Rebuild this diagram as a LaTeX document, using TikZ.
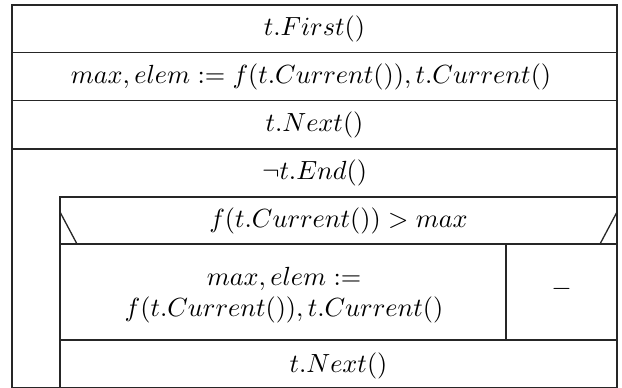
\documentclass[tikz,border=0pt]{standalone}
\begin{document}
\begin{tikzpicture}[x=0.381pt,y=-0.381pt,line width=0.5pt,
  lbl/.style={inner sep=0pt,align=center},
  frame/.style={draw=black!85}]
\useasboundingbox (0,0) rectangle (622,388);
% outer sequence
\draw[frame] (12,5) rectangle (617,387.5);
\draw[frame] (12,52.7) -- (617,52.7);
\draw[frame] (12,100.3) -- (617,100.3);
\draw[frame] (12,149) -- (617,149);
% loop body
\draw[frame] (60,197) rectangle (617,387.5);
\draw[frame] (60,244) -- (617,244);
\draw[frame] (506,244) -- (506,340);
\draw[frame] (60,340) -- (617,340);
% condition triangle edges
\draw[frame] (60,212) -- (77,244);
\draw[frame] (617,212) -- (600,244);
% texts
\node[lbl] (first) at (314.5,29) {$t.First()$};
\node[lbl] (init) at (311,76.5) {$max, elem := f(t.Current()), t.Current()$};
\node[lbl] (next1) at (314.5,124.7) {$t.Next()$};
\node[lbl] (loop) at (314.5,173) {$\neg t.End()$};
\node[lbl] (cond) at (338.5,221) {$f(t.Current()) > max$};
\node[lbl] (yes) at (284,295) {\baselineskip=13pt $max, elem :=$\\$f(t.Current()), t.Current()$};
\node[lbl] (no) at (561.5,289) {$-$};
\node[lbl] (next2) at (338.5,366) {$t.Next()$};
\end{tikzpicture}
\end{document}
